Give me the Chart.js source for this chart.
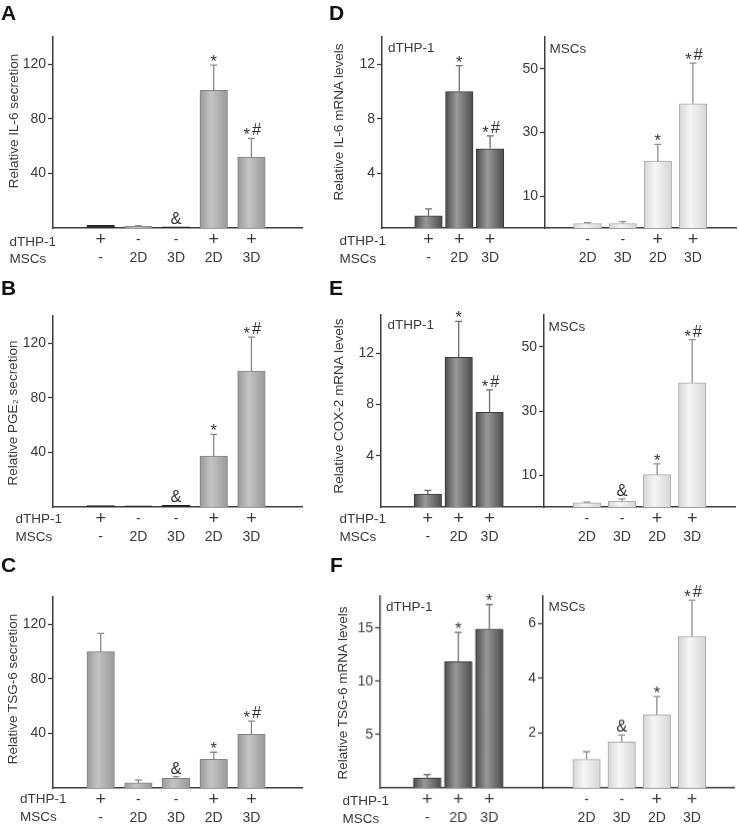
<!DOCTYPE html>
<html>
<head>
<meta charset="utf-8">
<script src="https://cdn.jsdelivr.net/npm/chart.js@4.4.1/dist/chart.umd.min.js"></script>
<style>
  body { margin: 0; background: #fff; }
  #fig { position: relative; width: 739px; height: 826px; overflow: hidden;
         font-family: "Liberation Sans", Arial, sans-serif; color: #3a3a3a; }
  #fig canvas { position: absolute; }
  .t { position: absolute; white-space: nowrap; font-size: 13.5px; line-height: 13.5px; }
  .letter { position: absolute; font-size: 21px; line-height: 21px; font-weight: bold; color: #111; }
  .ytitle { position: absolute; white-space: nowrap; font-size: 13.5px; line-height: 14px;
            transform: translate(-50%, -50%) rotate(-90deg); }
</style>
</head>
<body>
<div id="fig"></div>
<script>
// === DATOS ===
const dthpSec = ["+", "-", "-", "+", "+"];
const mscSec = ["-", "2D", "3D", "2D", "3D"];
const dthpLeft = ["+", "+", "+"];
const mscLeft = ["-", "2D", "3D"];
const dthpRight = ["-", "-", "+", "+"];
const mscRight = ["2D", "3D", "2D", "3D"];

// A: IL-6 secretion
const il6Sec = [2, 1.3, 0.8, 101, 52];
const il6SecErr = [0, 0.4, 0, 18.4, 13.7];
const il6SecMarks = ["", "", "&", "*", "*#"];
// B: PGE2 secretion
const pge2Sec = [1, 0.8, 1.3, 37.3, 99.7];
const pge2SecErr = [0, 0, 0, 16, 24.8];
const pge2SecMarks = ["", "", "&", "*", "*#"];
// C: TSG-6 secretion
const tsg6Sec = [100, 3.7, 7, 21, 39.3];
const tsg6SecErr = [13.4, 2, 1.4, 5.2, 9.7];
const tsg6SecMarks = ["", "", "&", "*", "*#"];
const secTicks = [40, 80, 120];

// D: IL-6 mRNA
const il6Thp = [0.9, 10, 5.8];
const il6ThpErr = [0.5, 1.9, 0.95];
const il6ThpMarks = ["", "*", "*#"];
const il6Msc = [1.4, 1.4, 21, 39];
const il6MscErr = [0.3, 0.6, 5.3, 12.8];
const il6MscMarks = ["", "", "*", "*#"];
// E: COX-2 mRNA
const cox2Thp = [1.0, 11.7, 7.4];
const cox2ThpErr = [0.3, 2.8, 1.75];
const cox2ThpMarks = ["", "*", "*#"];
const cox2Msc = [1.3, 1.8, 10.1, 38.8];
const cox2MscErr = [0.2, 0.75, 3.4, 13.5];
const cox2MscMarks = ["", "&", "*", "*#"];
// F: TSG-6 mRNA
const tsg6Thp = [0.9, 11.85, 14.9];
const tsg6ThpErr = [0.35, 2.75, 2.3];
const tsg6ThpMarks = ["", "*", "*"];
const tsg6Msc = [1.04, 1.67, 2.67, 5.53];
const tsg6MscErr = [0.28, 0.26, 0.66, 1.32];
const tsg6MscMarks = ["", "&", "*", "*#"];

(function () {
  Chart.defaults.font.family = '"Liberation Sans", Arial, sans-serif';
  Chart.defaults.color = "#3a3a3a";

  const fig = document.getElementById("fig");
  const W_Y = 40, H_1 = 20, H_2 = 24, PAD_T = 22, PAD_R = 4;
  const AXIS = "#3d3d3d";

  const styles = {
    sec: { edge: "#999999", mid: "#c4c4c4", border: "#828282", err: "#8a8a8a" },
    thp: { edge: "#4c4c4c", mid: "#999999", border: "#3a3a3a", err: "#6e6e6e" },
    msc: { edge: "#d6d6d6", mid: "#f6f6f6", border: "#a9a9a9", err: "#8f8f8f" },
  };

  // === BARRAS DE ERROR Y MARCAS ===
  const extrasPlugin = {
    id: "extras",
    afterDatasetsDraw(chart) {
      const ctx = chart.ctx;
      const ys = chart.scales.y;
      chart.data.datasets.forEach((ds, di) => {
        const meta = chart.getDatasetMeta(di);
        meta.data.forEach((bar, i) => {
          const v = ds.data[i].y;
          const e = ds.errors[i] || 0;
          const yTop = ys.getPixelForValue(v + e);
          ctx.save();
          if (e > 0) {
            ctx.strokeStyle = ds.errColor;
            ctx.lineWidth = 1.3;
            ctx.beginPath();
            ctx.moveTo(bar.x, ys.getPixelForValue(v));
            ctx.lineTo(bar.x, yTop);
            ctx.moveTo(bar.x - 3.5, yTop);
            ctx.lineTo(bar.x + 3.5, yTop);
            ctx.stroke();
          }
          const m = ds.marks[i];
          if (m) {
            ctx.font = '16.5px "Liberation Sans", Arial, sans-serif';
            ctx.fillStyle = "#333";
            ctx.textAlign = "left";
            ctx.textBaseline = "alphabetic";
            const chars = m.split("");
            const widths = chars.map((c) => ctx.measureText(c).width);
            const gap = 2;
            const total = widths.reduce((a, b) => a + b, 0) + gap * (chars.length - 1);
            let x = bar.x - total / 2 + (chars.length > 1 ? 1 : 0);
            const base = yTop - 3;
            chars.forEach((c, k) => {
              ctx.fillText(c, x, c === "*" ? base + 5 : base);
              x += widths[k] + gap;
            });
          }
          ctx.restore();
        });
      });
    },
  };

  // tamaño de fuente: los signos + se ven más grandes en la figura
  const signFont = (rows) => (c) => {
    const s = rows[c.index];
    return { size: s === "+" ? 18 : 14, lineHeight: "18px" };
  };

  // === CREAR GRÁFICO ===
  function barChart(g) {
    const st = styles[g.style];
    const canvas = document.createElement("canvas");
    const w = W_Y + (g.right - g.axisX) + PAD_R;
    const h = PAD_T + (g.bottom - g.top) + H_1 + H_2;
    canvas.width = w;
    canvas.height = h;
    canvas.style.left = g.axisX - W_Y + "px";
    canvas.style.top = g.top - PAD_T + "px";
    canvas.style.width = w + "px";
    canvas.style.height = h + "px";
    fig.appendChild(canvas);

    const xMin = -(g.first - g.axisX) / g.step;
    const xMax = xMin + (g.right - g.axisX) / g.step;
    const barW = 27.5;
    const dark = g.dark || [];

    const xCommon = {
      type: "linear",
      position: "bottom",
      bounds: "data",
      min: xMin,
      max: xMax,
      afterBuildTicks: (s) => { s.ticks = g.rowA.map((_, i) => ({ value: i })); },
      grid: { display: false, drawTicks: false },
    };

    new Chart(canvas, {
      type: "bar",
      data: {
        datasets: [{
          data: g.values.map((v, i) => ({ x: i, y: v })),
          errors: g.errors,
          marks: g.marks,
          errColor: st.err,
          barThickness: barW,
          borderWidth: 1,
          borderColor: (c) => (dark.includes(c.dataIndex) ? "#1e1e1e" : st.border),
          backgroundColor: (c) => {
            if (c.type !== "data" || !c.chart.chartArea) return st.edge;
            if (dark.includes(c.dataIndex)) return "#2a2a2a";
            const cx = c.chart.scales.x.getPixelForValue(c.raw.x);
            const grad = c.chart.ctx.createLinearGradient(cx - barW / 2, 0, cx + barW / 2, 0);
            grad.addColorStop(0, st.edge);
            grad.addColorStop(0.4, st.mid);
            grad.addColorStop(1, st.edge);
            return grad;
          },
        }],
      },
      options: {
        responsive: false,
        animation: false,
        layout: { padding: { top: PAD_T, right: PAD_R, left: 0, bottom: 0 } },
        plugins: { legend: { display: false }, tooltip: { enabled: false } },
        scales: {
          x: {
            ...xCommon,
            weight: 0,
            afterFit: (s) => { s.height = H_1; },
            border: { display: true, color: AXIS, width: 1.5 },
            ticks: {
              autoSkip: false, maxRotation: 0, padding: 3.5, color: "#3a3a3a",
              font: signFont(g.rowA),
              callback: (v) => g.rowA[v],
            },
          },
          x2: {
            ...xCommon,
            weight: 1,
            afterFit: (s) => { s.height = H_2; },
            border: { display: false },
            ticks: {
              autoSkip: false, maxRotation: 0, padding: 1.5, color: "#3a3a3a",
              font: signFont(g.rowB),
              callback: (v) => g.rowB[v],
            },
          },
          y: {
            min: 0,
            max: g.yMax,
            afterBuildTicks: (s) => { s.ticks = g.yTicks.map((v) => ({ value: v })); },
            afterFit: (s) => { s.width = W_Y; },
            grid: { drawOnChartArea: false, drawTicks: true, tickLength: 5, tickColor: AXIS, tickWidth: 1.3 },
            border: { display: true, color: AXIS, width: 1.5 },
            ticks: { padding: 2, color: "#3a3a3a", font: { size: 14 } },
          },
        },
      },
      plugins: [extrasPlugin],
    });
  }

  // === TEXTOS ===
  function text(cls, str, left, top) {
    const d = document.createElement("div");
    d.className = cls;
    d.textContent = str;
    d.style.left = left + "px";
    d.style.top = top + "px";
    fig.appendChild(d);
  }
  const rowLabels = (x, y1, y2) => {
    text("t", "dTHP-1", x, y1 - 6.75);
    text("t", "MSCs", x, y2 - 6.75);
  };

  // === PANELES A-C ===
  const secGeom = { axisX: 53, right: 302, first: 81.5, step: 47.1, yMax: 140, yTicks: secTicks,
                    rowA: dthpSec, rowB: mscSec, style: "sec" };
  barChart({ ...secGeom, top: 37, bottom: 228, dark: [0, 2],
             values: il6Sec, errors: il6SecErr, marks: il6SecMarks });
  barChart({ ...secGeom, top: 316, bottom: 507, dark: [0, 1, 2],
             values: pge2Sec, errors: pge2SecErr, marks: pge2SecMarks });
  barChart({ ...secGeom, top: 597, bottom: 788,
             values: tsg6Sec, errors: tsg6SecErr, marks: tsg6SecMarks });

  // === PANELES D-F ===
  const thpGeom = { yTicks: [4, 8, 12], rowA: dthpLeft, rowB: mscLeft, style: "thp" };
  const mscGeom = { rowA: dthpRight, rowB: mscRight, style: "msc" };

  barChart({ ...thpGeom, axisX: 382, right: 545, first: 411, step: 46.2, top: 37, bottom: 228,
             yMax: 14, values: il6Thp, errors: il6ThpErr, marks: il6ThpMarks });
  barChart({ ...mscGeom, axisX: 545, right: 736, first: 570, step: 46.8, top: 37, bottom: 228,
             yMax: 60, yTicks: [10, 30, 50], values: il6Msc, errors: il6MscErr, marks: il6MscMarks });

  barChart({ ...thpGeom, axisX: 380.5, right: 543.5, first: 410, step: 46.3, top: 315, bottom: 507,
             yMax: 15, values: cox2Thp, errors: cox2ThpErr, marks: cox2ThpMarks });
  barChart({ ...mscGeom, axisX: 543.5, right: 735, first: 569, step: 46.9, top: 315, bottom: 507,
             yMax: 60, yTicks: [10, 30, 50], values: cox2Msc, errors: cox2MscErr, marks: cox2MscMarks });

  barChart({ ...thpGeom, axisX: 380, right: 542.5, first: 409.7, step: 46.5, top: 596, bottom: 787.5,
             yMax: 18, yTicks: [5, 10, 15], values: tsg6Thp, errors: tsg6ThpErr, marks: tsg6ThpMarks });
  barChart({ ...mscGeom, axisX: 542.5, right: 734, first: 568.8, step: 47, top: 596, bottom: 787.5,
             yMax: 7, yTicks: [2, 4, 6], values: tsg6Msc, errors: tsg6MscErr, marks: tsg6MscMarks });

  // letras de panel
  text("letter", "A", 1, 2);
  text("letter", "B", 1, 277);
  text("letter", "C", 1, 554);
  text("letter", "D", 329, 2);
  text("letter", "E", 329, 277);
  text("letter", "F", 330, 554);

  // filas dTHP-1 / MSCs
  rowLabels(9.5, 241.5, 259);
  rowLabels(15.5, 518.5, 537);
  rowLabels(20, 798.5, 817);
  rowLabels(339.5, 241, 258.5);
  rowLabels(339.5, 518.5, 537);
  rowLabels(342.5, 800.5, 819);

  // títulos de eje Y
  const yTitle = (str, cx, cy) => {
    const d = document.createElement("div");
    d.className = "ytitle";
    d.textContent = str;
    d.style.left = cx + "px";
    d.style.top = cy + "px";
    fig.appendChild(d);
  };
  yTitle("Relative IL-6 secretion", 14, 121);
  yTitle("Relative PGE\u2082 secretion", 12.5, 412.5);
  yTitle("Relative TSG-6 secretion", 12.5, 689);
  yTitle("Relative IL-6 mRNA levels", 339, 121.5);
  yTitle("Relative COX-2 mRNA levels", 339, 406);
  yTitle("Relative TSG-6 mRNA levels", 342.5, 693);

  // etiquetas internas
  text("t", "dTHP-1", 388, 47.5 - 6.75);
  text("t", "MSCs", 549.5, 48.5 - 6.75);
  text("t", "dTHP-1", 387.5, 325 - 6.75);
  text("t", "MSCs", 548.5, 326.5 - 6.75);
  text("t", "dTHP-1", 386, 606.5 - 6.75);
  text("t", "MSCs", 548.5, 606.5 - 6.75);
})();
</script>
</body>
</html>
